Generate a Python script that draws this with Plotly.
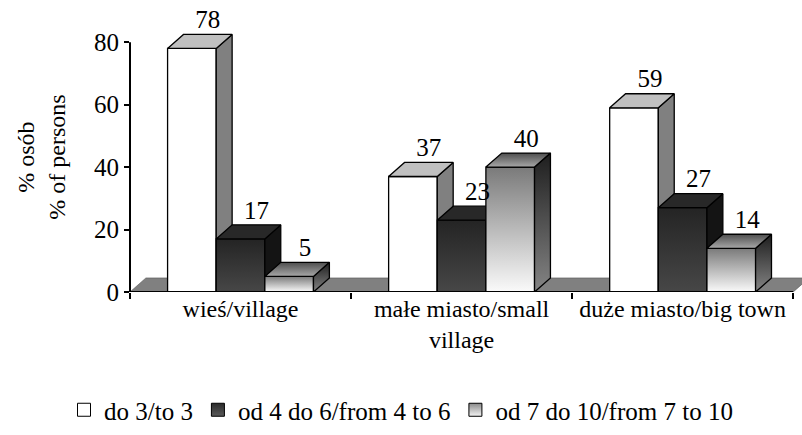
import plotly.graph_objects as go

categories = ["wieś/village", "małe miasto/small<br>village", "duże miasto/big town"]
series_names = ["do 3/to 3", "od 4 do 6/from 4 to 6", "od 7 do 10/from 7 to 10"]
s1 = [78, 37, 59]
s2 = [17, 23, 27]
s3 = [5, 40, 14]
y_ticks = [0, 20, 40, 60, 80]

series = [s1, s2, s3]
BW = 0.22          # bar width (category units)
DX = 0.072         # 3-D depth offset in x (category units)
DY = 4.5           # 3-D depth offset in y (value units)
FONT = "Liberation Serif"

styles = [
    dict(front=dict(color="#ffffff"), top=dict(color="#c0c0c0"), side=dict(color="#808080"),
         legend=dict(color="#ffffff")),
    dict(front=dict(grad=[[0, "#474747"], [1, "#242424"]]), top=dict(color="#282828"),
         side=dict(color="#141414"), legend=dict(color="#2a2a2a", gcolor="#5a5a5a")),
    dict(front=dict(grad=[[0, "#fafafa"], [1, "#7a7a7a"]]),
         top=dict(grad=[[0, "#a8a8a8"], [1, "#4e4e4e"]]),
         side=dict(grad=[[0, "#858585"], [1, "#1e1e1e"]]),
         legend=dict(color="#8a8a8a", gcolor="#f5f5f5")),
]

fig = go.Figure()


def poly(xs, ys, st, lw=1.3, lc="black"):
    kw = dict(x=xs + [xs[0]], y=ys + [ys[0]], mode="lines", fill="toself",
              line=dict(color=lc, width=lw), hoverinfo="skip", showlegend=False)
    if "grad" in st:
        kw["fillgradient"] = dict(type="vertical", colorscale=st["grad"])
    else:
        kw["fillcolor"] = st["color"]
    fig.add_trace(go.Scatter(**kw))


# floor
x_lo, x_hi = -0.5, 2.5
poly([x_lo, x_hi, x_hi + DX, x_lo + DX], [0, 0, DY, DY], dict(color="#808080"), lw=0.6, lc="#555555")

# bars
for i in range(len(categories)):
    for j, vals in enumerate(series):
        v = vals[i]
        st = styles[j]
        x0 = i - 1.5 * BW + j * BW
        x1 = x0 + BW
        poly([x0, x1, x1, x0], [0, 0, v, v], st["front"])
        poly([x1, x1 + DX, x1 + DX, x1], [0, DY, v + DY, v], st["side"])
        poly([x0, x1, x1 + DX, x0 + DX], [v, v, v + DY, v + DY], st["top"])

# value labels
for j, vals in enumerate(series):
    xs = [i - 1.5 * BW + j * BW + BW / 2 + DX for i in range(len(categories))]
    ys = [v + DY for v in vals]
    fig.add_trace(go.Scatter(x=xs, y=ys, mode="text", text=[str(v) for v in vals],
                             textposition="top center", cliponaxis=False,
                             textfont=dict(family=FONT, size=25, color="black"),
                             hoverinfo="skip", showlegend=False))

# legend entries
for j, name in enumerate(series_names):
    lg = styles[j]["legend"]
    marker = dict(symbol="square", size=13, color=lg["color"], line=dict(color="black", width=1))
    if "gcolor" in lg:
        marker["gradient"] = dict(type="vertical", color=lg["gcolor"])
    fig.add_trace(go.Scatter(x=[None], y=[None], mode="markers", name=name, marker=marker))

fig.update_layout(
    width=802, height=435,
    margin=dict(l=130, r=0, t=11, b=143),
    paper_bgcolor="white", plot_bgcolor="white",
    font=dict(family=FONT, color="black", size=24),
    showlegend=True,
    legend=dict(orientation="h", xref="container", x=0.5, xanchor="center",
                yref="container", y=1 - 410 / 435, yanchor="middle",
                font=dict(family=FONT, size=25), itemclick=False),
    xaxis=dict(range=[-0.5, 2.54], tickvals=[0, 1, 2], ticktext=categories,
               showgrid=False, zeroline=False, showline=False,
               ticks="", tickfont=dict(family=FONT, size=24),
               minor=dict(tickvals=[-0.5, 0.5, 1.5, 2.5], ticks="outside", ticklen=6,
                          tickcolor="black", tickwidth=1.5, showgrid=False)),
    yaxis=dict(range=[0, 90], tickvals=y_ticks, showgrid=False, zeroline=False, showline=False,
               ticks="outside", ticklen=5, tickcolor="black", tickwidth=1.5,
               tickfont=dict(family=FONT, size=25)),
    shapes=[
        dict(type="line", xref="paper", x0=0, x1=0, yref="y", y0=0, y1=80,
             line=dict(color="black", width=2)),
        dict(type="line", xref="x", x0=-0.5, x1=2.5, yref="y", y0=0, y1=0,
             line=dict(color="black", width=2)),
    ],
    annotations=[
        dict(text="% osób<br>% of persons", textangle=-90, xref="paper", yref="y",
             x=(42 - 130) / 672, y=43, xanchor="center", yanchor="middle",
             showarrow=False, font=dict(family=FONT, size=24)),
    ],
)

fig.write_html("out.html", config={"displayModeBar": False},
               post_script="document.body.style.margin='0';")
